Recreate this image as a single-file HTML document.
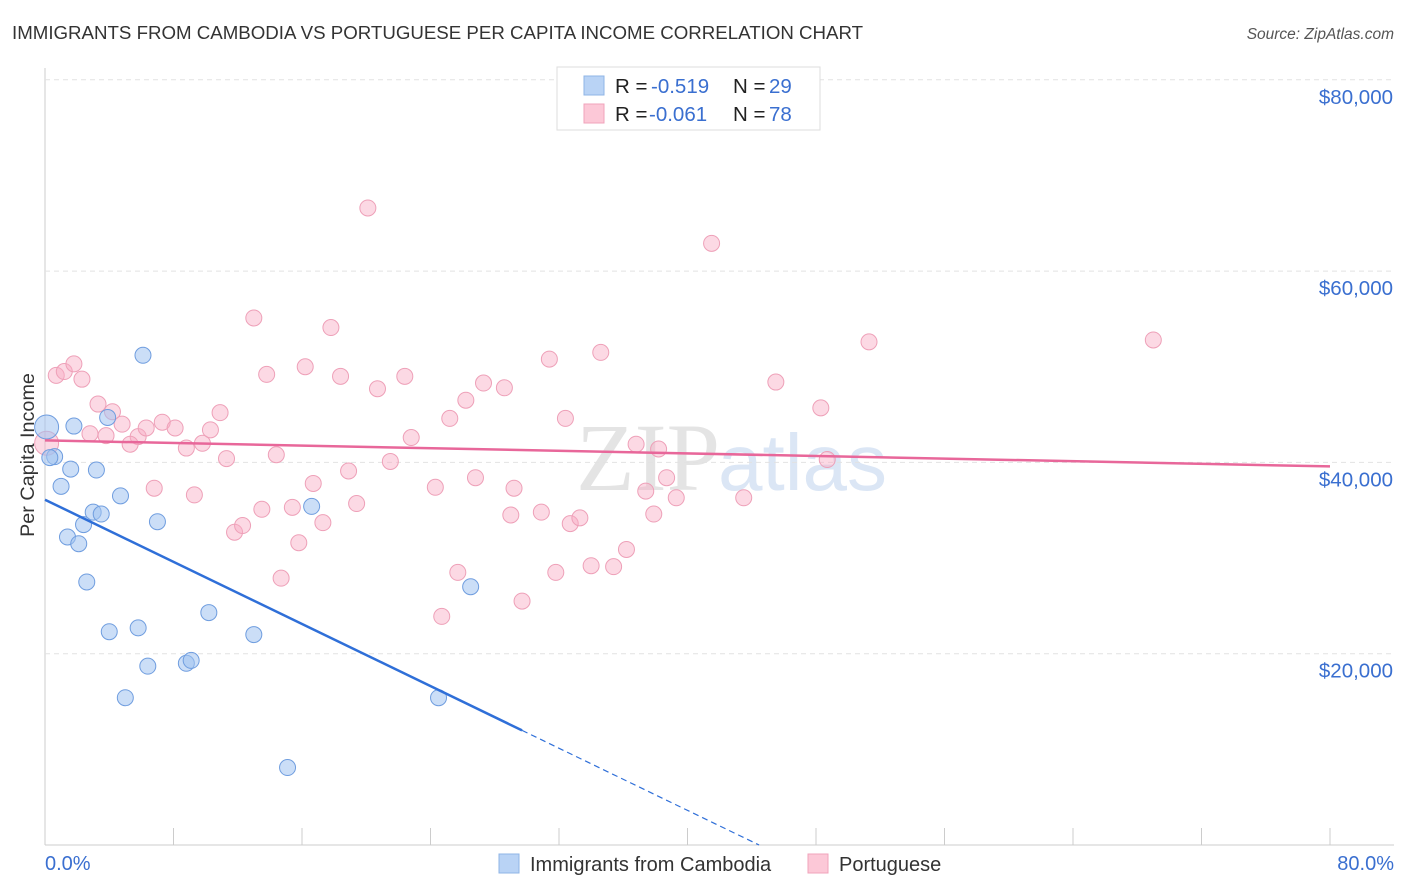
<!DOCTYPE html>
<html><head><meta charset="utf-8"><style>
body{margin:0;background:#fff;font-family:"Liberation Sans",sans-serif;}
svg{display:block}
</style></head><body>
<svg id="c" width="1406" height="892" xmlns="http://www.w3.org/2000/svg">
<text x="12" y="39" font-size="18.7" fill="#333">IMMIGRANTS FROM CAMBODIA VS PORTUGUESE PER CAPITA INCOME CORRELATION CHART</text>
<text x="1394" y="39" font-size="15.5" fill="#555" font-style="italic" text-anchor="end">Source: ZipAtlas.com</text>
<text x="720" y="490" font-size="96" fill="#e4e4e4" text-anchor="end" font-family="Liberation Serif">ZIP</text>
<text x="718" y="490" font-size="80" fill="#dbe6f5">atlas</text>
<text x="34" y="455" font-size="19.8" fill="#333" text-anchor="middle" transform="rotate(-90 34 455)">Per Capita Income</text>
<g id="grid"></g><g id="pts"></g><g id="lines"></g>
<g>
<rect x="557" y="67" width="263" height="63" fill="#fff" stroke="#ddd"/>
<rect x="584" y="76" width="20" height="19" fill="#b9d3f5" stroke="#8fb4e6"/>
<rect x="584" y="104" width="20" height="19" fill="#fcc8d7" stroke="#f0a3bb"/>
<text x="615" y="93" font-size="20.5" fill="#222">R =</text>
<text x="651" y="93" font-size="20.5" fill="#3a6fd0">-0.519</text>
<text x="733" y="93" font-size="20.5" fill="#222">N =</text>
<text x="769" y="93" font-size="20.5" fill="#3a6fd0">29</text>
<text x="615" y="121" font-size="20.5" fill="#222">R =</text>
<text x="649" y="121" font-size="20.5" fill="#3a6fd0">-0.061</text>
<text x="733" y="121" font-size="20.5" fill="#222">N =</text>
<text x="769" y="121" font-size="20.5" fill="#3a6fd0">78</text>
</g>
<g>
<rect x="499" y="854" width="20" height="19" fill="#b9d3f5" stroke="#8fb4e6"/>
<text x="530" y="871" font-size="20" fill="#333">Immigrants from Cambodia</text>
<rect x="808" y="854" width="20" height="19" fill="#fcc8d7" stroke="#f0a3bb"/>
<text x="839" y="871" font-size="20" fill="#333">Portuguese</text>
</g>
</svg>
<script>
const xTicks=[0,8,16,24,32,40,48,56,64,72,80];
const yTicks=[20000,40000,60000,80000];
const yTickLabels=["$20,000","$40,000","$60,000","$80,000"];
const blueX=[0.1,0.6,1.8,1.0,1.6,3.2,1.4,2.4,2.1,3.0,3.5,4.7,3.9,6.1,7.0,2.6,4.0,5.8,6.4,5.0,8.8,9.1,10.2,13.0,16.6,26.5,24.5,15.1,0.3];
const blueY=[43700,40600,43800,37500,39300,39200,32200,33500,31500,34800,34600,36500,44700,51200,33800,27500,22300,22700,18700,15400,19000,19300,24300,22000,35400,27000,15400,8100,40500];
const pinkX=[0.1,0.7,1.2,1.8,2.3,3.3,4.2,2.8,3.8,4.8,5.8,5.3,6.3,6.8,7.3,8.1,8.8,9.3,9.8,10.3,10.9,11.3,11.8,12.3,13.0,13.5,13.8,14.4,14.7,15.4,15.8,16.2,16.7,17.3,17.8,18.4,18.9,19.4,20.1,20.7,21.5,22.4,22.8,24.3,24.7,25.2,25.7,26.2,26.8,27.3,28.6,29.0,29.2,29.7,30.9,31.4,31.8,32.4,32.7,33.3,34.0,34.6,35.4,36.2,36.8,37.4,37.9,38.2,38.7,39.3,41.5,43.5,45.5,48.3,48.7,51.3,69.0];
const pinkY=[42000,49100,49500,50300,48700,46100,45300,43000,42800,44000,42700,41900,43600,37300,44200,43600,41500,36600,42000,43400,45200,40400,32700,33400,55100,35100,49200,40800,27900,35300,31600,50000,37800,33700,54100,49000,39100,35700,66600,47700,40100,49000,42600,37400,23900,44600,28500,46500,38400,48300,47800,34500,37300,25500,34800,50800,28500,44600,33600,34200,29200,51500,29100,30900,41900,37000,34600,41400,38400,36300,62900,36300,48400,45700,40300,52600,52800];
const blueFit=[36100,-812];
const pinkFit=[42300,-34];
const sx=v=>45+v*1285/80, sy=v=>845-v*191.3/20000;
const NS="http://www.w3.org/2000/svg";
function mk(t,a,p){const e=document.createElementNS(NS,t);for(const k in a)e.setAttribute(k,a[k]);p.appendChild(e);return e;}
const g=document.getElementById('grid');
const ax=mk('line',{x1:45,y1:68,x2:45,y2:845,stroke:'#ccc'},g);


const bx=mk('line',{x1:45,y1:845,x2:1394,y2:845,stroke:'#ccc'},g);


yTicks.forEach((v,i)=>{
 const l=mk('line',{x1:45,y1:sy(v),x2:1394,y2:sy(v),stroke:'#e2e2e2','stroke-dasharray':'5,4'},g);
 
 
 const t=mk('text',{x:1393,y:sy(v)+24,'font-size':20.5,fill:'#3a6fd0','text-anchor':'end'},g);
 t.textContent=yTickLabels[i];
 
 
});
xTicks.forEach(v=>{
 const l=mk('line',{x1:sx(v),y1:828,x2:sx(v),y2:845,stroke:'#ccc'},g);
 
 
});
const x0=mk('text',{x:45,y:870,'font-size':20,fill:'#3a6fd0'},g);x0.textContent='0.0%';


const x1=mk('text',{x:1394,y:870,'font-size':20,fill:'#3a6fd0','text-anchor':'end'},g);x1.textContent='80.0%';


const P=document.getElementById('pts');
pinkX.forEach((x,i)=>{const c=mk('circle',{cx:sx(x),cy:sy(pinkY[i]),r:i==0?12:8,fill:'rgba(248,170,195,0.45)',stroke:'#eea0b8','stroke-width':1},P);

});
blueX.forEach((x,i)=>{const c=mk('circle',{cx:sx(x),cy:sy(blueY[i]),r:i==0?12:8,fill:'rgba(160,195,240,0.55)',stroke:'#6f9ddf','stroke-width':1},P);

});
const L=document.getElementById('lines');
const bf=x=>blueFit[0]+blueFit[1]*x, pf=x=>pinkFit[0]+pinkFit[1]*x;
const b1=mk('line',{x1:sx(0),y1:sy(bf(0)),x2:sx(29.7),y2:sy(bf(29.7)),stroke:'#2f6fd8','stroke-width':2.5},L);


const xe=-blueFit[0]/blueFit[1];
const b2=mk('line',{x1:sx(29.7),y1:sy(bf(29.7)),x2:sx(xe),y2:sy(0),stroke:'#2f6fd8','stroke-width':1.2,'stroke-dasharray':'6,4'},L);


const p1=mk('line',{x1:sx(0),y1:sy(pf(0)),x2:sx(80),y2:sy(pf(80)),stroke:'#e8679a','stroke-width':2.5},L);


</script>
</body></html>
